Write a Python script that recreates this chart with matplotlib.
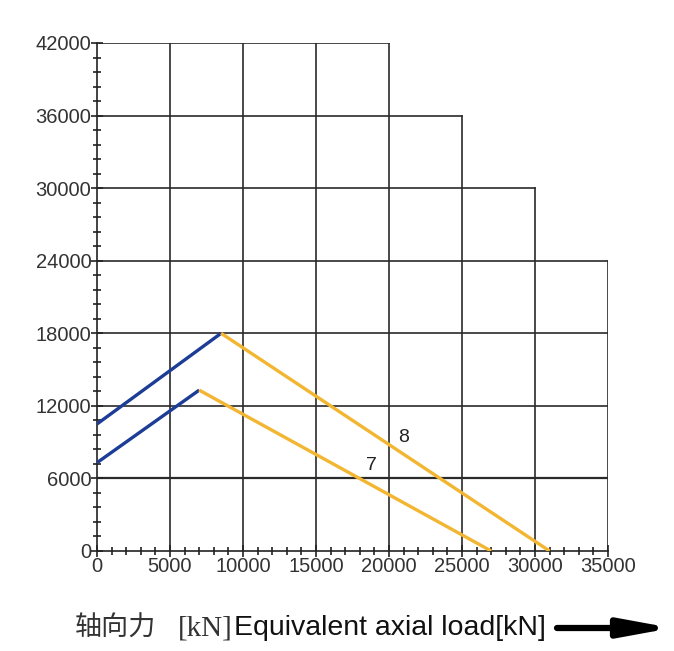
import matplotlib
matplotlib.use('Agg')
import matplotlib.pyplot as plt
from matplotlib.ticker import MultipleLocator

plt.rcParams['font.family'] = ['Liberation Sans', 'DejaVu Sans']

# 阶梯网格
grid_x = [5000, 10000, 15000, 20000, 25000, 30000, 35000]
grid_x_top = [42000, 42000, 42000, 42000, 36000, 30000, 24000]
grid_y = [6000, 12000, 18000, 24000, 30000, 36000, 42000]
grid_y_right = [35000, 35000, 35000, 35000, 30000, 25000, 20000]

# 曲线 8 / 7 (转折点)
line8_x = [0, 8500, 31000]
line8_y = [10500, 18000, 0]
line7_x = [0, 7000, 27000]
line7_y = [7300, 13300, 0]
labels = ['8', '7']
label_x = [21000, 18800]
label_y = [9400, 7100]

fig = plt.figure(figsize=(6.74, 6.51), dpi=100)
ax = fig.add_axes([97/674, 1-551/651, 511/674, 508/651])

for x, top in zip(grid_x, grid_x_top):
    ax.plot([x, x], [0, top], color='#2a2a2a', lw=1.2, zorder=1)
for y, right in zip(grid_y, grid_y_right):
    ax.plot([0, right], [y, y], color='#2a2a2a', lw=1.6 if y == 6000 else 1.2, zorder=1)

blue = '#1c3c96'
yellow = '#f2b632'
for xs, ys in [(line8_x, line8_y), (line7_x, line7_y)]:
    ax.plot(xs[:2], ys[:2], color=blue, lw=2.4, solid_capstyle='butt', zorder=3)
    ax.plot(xs[1:], ys[1:], color=yellow, lw=2.4, solid_capstyle='butt', zorder=3)

for t, x, y in zip(labels, label_x, label_y):
    ax.text(x, y, t, fontsize=14, ha='center', va='center', color='#222222')

ax.set_xlim(0, 35000)
ax.set_ylim(0, 42000)
ax.set_xticks(range(0, 35001, 5000))
ax.set_yticks(range(0, 42001, 6000))
ax.xaxis.set_minor_locator(MultipleLocator(1000))
ax.yaxis.set_minor_locator(MultipleLocator(1200))
ax.tick_params(which='both', direction='inout', color='#222222', width=1.2, labelsize=14.5,
               labelcolor='#333333')
ax.tick_params(which='major', length=8, pad=0)
ax.tick_params(which='minor', length=6)
for s in ['top', 'right']:
    ax.spines[s].set_visible(False)
for s in ['left', 'bottom']:
    ax.spines[s].set_color('#222222')
    ax.spines[s].set_linewidth(1.2)
ax.patch.set_alpha(0)

# 横轴标题
fig.text(75/674, 1-628/651, '轴向力', fontsize=19.5, family=['Noto Sans CJK SC'],
         weight='light', va='center', ha='left', color='#333333')
fig.text(178/674, 1-628/651, '[kN]', fontsize=21, family=['Liberation Serif'],
         va='center', ha='left', color='#333333')
fig.text(234/674, 1-628/651, 'Equivalent axial load[kN]', fontsize=20.5,
         va='center', ha='left', color='#111111')
fig.add_artist(matplotlib.patches.FancyArrowPatch(
    (557/674, 1-628/651), (672/674, 1-628/651), transform=fig.transFigure,
    arrowstyle='-|>,head_length=30,head_width=5.5', lw=4.5, color='black',
    mutation_scale=1, shrinkA=0, shrinkB=0))

fig.savefig('out.png', dpi=100)
